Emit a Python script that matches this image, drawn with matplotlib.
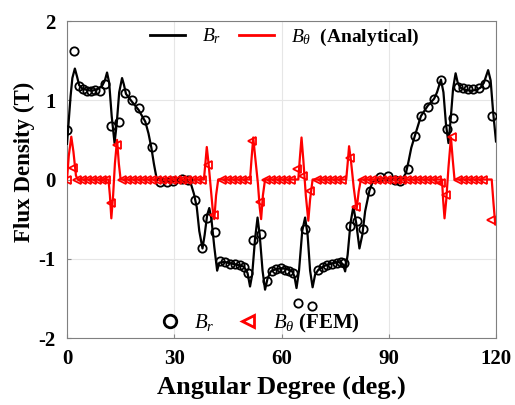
import matplotlib
matplotlib.use("Agg")
import matplotlib.pyplot as plt
from matplotlib.lines import Line2D

plt.rcParams['font.family'] = ['Liberation Serif', 'DejaVu Serif']
plt.rcParams['mathtext.fontset'] = 'custom'
plt.rcParams['mathtext.rm'] = 'Liberation Serif'
plt.rcParams['mathtext.it'] = 'Liberation Serif:italic'
plt.rcParams['mathtext.bf'] = 'Liberation Serif:bold'

# ---- Analytical B_r (deg, T)
br_ana_deg = [0, 0.5, 1.0, 1.5, 2.2, 2.8, 3.4, 4.2, 5.5, 7, 8.5, 9.8, 10.6, 11.2, 11.8, 12.5, 13.3, 13.9,
              14.6, 15.4, 15.9, 16.5, 18.2, 20, 21.9, 22.8, 23.6, 24.3, 25, 26, 28, 30, 32, 33.5, 34.7,
              35.5, 36.3, 37.0, 37.9, 38.5, 39.2, 39.8, 40.4, 41.2, 42, 42.6, 44, 46, 48, 49.5, 50.5,
              51.2, 51.8, 52.6, 53.3, 53.9, 54.7, 55.4, 56.1, 57, 58.5, 60, 61.5, 63, 63.6, 64.2, 64.9,
              65.8, 66.6, 67.3, 68, 68.7, 69.4, 70.3, 72, 74, 76, 77.2, 77.8, 78.5, 79.3, 80.1, 80.9,
              81.8, 82.6, 83.4, 84.6, 85.5, 86.5, 88, 90, 92, 94, 94.8, 95.5, 96.3, 97.3, 99, 100.9,
              102.7, 103.5, 104.6, 105.3, 106, 106.7, 107.3, 108, 108.7, 109.3, 110, 111.5, 113, 114.5,
              115.7, 116.6, 117.2, 117.8, 118.5, 119.2, 120]
br_ana_val = [0.45, 0.75, 1.05, 1.28, 1.40, 1.30, 1.19, 1.15, 1.13, 1.12, 1.14, 1.18, 1.25, 1.35, 1.22, 0.80, 0.46, 0.70,
              1.10, 1.28, 1.20, 1.08, 0.98, 0.88, 0.73, 0.58, 0.40, 0.20, 0.03, -0.01, -0.02, -0.02, -0.01, -0.02, -0.06,
              -0.18, -0.35, -0.65, -0.87, -0.70, -0.45, -0.36, -0.50, -0.85, -1.15, -1.05, -1.04, -1.06, -1.08, -1.10, -1.18,
              -1.35, -1.20, -0.75, -0.48, -0.70, -1.15, -1.39, -1.25, -1.16, -1.13, -1.12, -1.13, -1.16, -1.22, -1.37, -1.15,
              -0.65, -0.48, -0.70, -1.15, -1.36, -1.20, -1.14, -1.09, -1.06, -1.04, -1.07, -1.16, -0.95, -0.55, -0.34, -0.55,
              -0.87, -0.70, -0.40, -0.14, -0.03, 0.0, 0.01, 0.01, 0.0, 0.02, 0.08, 0.22, 0.40, 0.55, 0.80, 0.93,
              1.02, 1.10, 1.26, 1.10, 0.70, 0.46, 0.75, 1.15, 1.34, 1.22, 1.16, 1.13, 1.12, 1.13,
              1.16, 1.22, 1.30, 1.38, 1.25, 0.85, 0.48]

# ---- Analytical B_theta
bt_ana_deg = [0, 0.5, 1.2, 1.8, 2.5, 3.0, 11.6, 12.0, 12.4, 12.9, 13.4, 14.0, 14.5, 15.0,
              38.3, 38.7, 39.1, 39.6, 40.2, 40.8, 41.2, 41.7, 42.3,
              51.2, 51.6, 52.1, 52.6, 53.4, 53.9, 54.3, 54.8, 55.4,
              64.7, 65.1, 65.6, 66.1, 66.8, 67.5, 68.0, 68.7,
              78.1, 78.5, 78.9, 79.4, 80.2, 81.0, 81.6, 82.2,
              104.9, 105.2, 105.6, 106.1, 106.7, 107.4, 107.9, 108.4,
              118.8, 119.3, 119.8, 120]
bt_ana_val = [0.0, 0.30, 0.54, 0.35, 0.05, 0.0, 0.0, -0.20, -0.49, -0.20, 0.20, 0.50, 0.20, 0.0,
              0.0, 0.20, 0.41, 0.20, -0.10, -0.40, -0.50, -0.20, 0.0,
              0.0, 0.25, 0.53, 0.30, -0.05, -0.35, -0.50, -0.20, 0.0,
              0.0, 0.25, 0.53, 0.25, -0.20, -0.52, -0.25, 0.0,
              0.0, 0.20, 0.42, 0.25, -0.10, -0.38, -0.15, 0.0,
              0.0, -0.25, -0.49, -0.25, 0.15, 0.53, 0.25, 0.0,
              0.0, -0.30, -0.57, -0.50]

# ---- FEM B_r
br_fem_deg = [0, 1.9, 3.4, 4.4, 5.5, 6.7, 7.9, 9.3, 10.7, 12.4, 14.5, 16.2, 18.1, 20.2, 21.8, 23.7,
              26.0, 27.9, 29.7, 32.1, 33.9, 35.9, 37.9, 39.3, 41.4, 42.8, 44.2, 45.6, 47.0, 48.4, 49.6, 50.7,
              52.1, 54.3, 55.9, 57.3, 58.4, 59.9, 61.0, 62.0, 63.3, 64.7, 66.6, 68.4, 70.3, 71.5, 72.8, 74.0,
              75.4, 76.6, 77.6, 79.2, 81.2, 82.9, 84.7, 87.6, 89.9, 91.7, 93.1, 95.4, 97.3, 99.0, 100.9,
              102.7, 104.6, 106.2, 108.0, 109.5, 110.9, 112.3, 113.7, 115.3, 116.9, 119.0]
br_fem_val = [0.63, 1.62, 1.18, 1.14, 1.12, 1.12, 1.13, 1.12, 1.21, 0.67, 0.73, 1.09, 1.00, 0.90, 0.75, 0.41,
              -0.03, -0.03, -0.02, 0.01, -0.01, -0.26, -0.86, -0.48, -0.66, -1.03, -1.04, -1.06, -1.07, -1.08, -1.10, -1.18,
              -0.76, -0.69, -1.28, -1.16, -1.13, -1.12, -1.14, -1.15, -1.18, -1.56, -0.63, -1.60, -1.14, -1.10, -1.08, -1.06,
              -1.05, -1.04, -1.05, -0.59, -0.52, -0.62, -0.14, 0.03, 0.04, 0.0, -0.02, 0.13, 0.55, 0.80, 0.92,
              1.01, 1.26, 0.64, 0.78, 1.17, 1.15, 1.14, 1.14, 1.15, 1.21, 0.80]

# ---- FEM B_theta
bt_fem_deg = [0, 1.6, 2.8, 4.2, 5.6, 7.0, 8.4, 9.8, 11.0, 12.4, 14.0, 15.4, 16.8, 18.2, 19.6, 21.0, 22.4,
              23.8, 25.2, 26.6, 28.0, 29.4, 30.8, 32.2, 33.6, 35.0, 36.4, 37.8, 39.5, 41.2, 43.3, 44.7,
              46.1, 47.5, 48.9, 50.3, 51.7, 54.0, 55.6, 57.0, 58.4, 59.8, 61.2, 62.6, 64.2, 66.1, 68.0,
              69.8, 71.2, 72.6, 74.0, 75.4, 76.8, 79.2, 80.8, 82.4, 83.8, 85.2, 86.6, 88.0, 89.4, 90.8,
              92.2, 93.6, 95.0, 96.4, 97.8, 99.2, 100.6, 102.0, 103.4, 104.5, 106.0, 107.6, 109.5, 110.9,
              112.3, 113.7, 115.1, 116.5, 118.6]
bt_fem_val = [0.0, 0.15, 0.0, 0.0, 0.0, 0.0, 0.0, 0.0, 0.0, -0.30, 0.44, 0.0, 0.0, 0.0, 0.0, 0.0, 0.0,
              0.0, 0.0, 0.0, 0.0, 0.0, 0.0, 0.0, 0.0, 0.0, 0.0, 0.0, 0.18, -0.45, 0.0, 0.0,
              0.0, 0.0, 0.0, 0.0, 0.48, -0.28, 0.0, 0.0, 0.0, 0.0, 0.0, 0.0, 0.13, 0.04, -0.15,
              0.0, 0.0, 0.0, 0.0, 0.0, 0.0, 0.27, -0.35, 0.0, 0.0, 0.0, 0.0, 0.0, 0.0, 0.0,
              0.0, 0.0, 0.0, 0.0, 0.0, 0.0, 0.0, 0.0, 0.0, -0.05, -0.20, 0.53, 0.0, 0.0,
              0.0, 0.0, 0.0, 0.0, -0.51]

x_ticks = [0, 30, 60, 90, 120]
y_ticks = [-2, -1, 0, 1, 2]

fig = plt.figure(figsize=(5.15, 4.05), dpi=100)
ax = fig.add_axes([67/515, 1 - 338/405, (496 - 67)/515, (338 - 21)/405])

ax.plot(br_ana_deg, br_ana_val, color='black', lw=1.6, zorder=3)
ax.plot(bt_ana_deg, bt_ana_val, color='red', lw=1.6, zorder=3)
ax.plot(br_fem_deg, br_fem_val, ls='none', marker='o', ms=6, mfc='none', mec='black', mew=1.3, zorder=4)
ax.plot(bt_fem_deg, bt_fem_val, ls='none', marker='<', ms=6, mfc='none', mec='red', mew=1.3, zorder=4)

ax.set_xlim(0, 120)
ax.set_ylim(-2, 2)
ax.set_xticks(x_ticks)
ax.set_yticks(y_ticks)
ax.set_xticklabels([str(t) for t in x_ticks], fontsize=15, fontweight='bold')
ax.set_yticklabels([str(t) for t in y_ticks], fontsize=15, fontweight='bold')
ax.tick_params(axis='x', direction='in', length=3, color='#888888', pad=8)
ax.tick_params(axis='y', direction='in', length=3, color='#888888', pad=8)
ax.grid(True, color='#e6e6e6', lw=0.8)
ax.set_axisbelow(True)
for s in ax.spines.values():
    s.set_color('#808080')
    s.set_linewidth(0.8)

ax.set_xlabel('Angular Degree (deg.)', fontsize=19, fontweight='bold', labelpad=5)
ax.set_ylabel('Flux Density (T)', fontsize=16.5, fontweight='bold')
ax.yaxis.set_label_coords((35 - 67) / 429, 0.557)

h1 = [Line2D([], [], color='black', lw=2), Line2D([], [], color='red', lw=2)]
leg1 = ax.legend(h1, [r'$B_r$', r'$B_\theta$  (Analytical)'], loc='center left',
                 bbox_to_anchor=((150 - 67) / 429, (338 - 37) / 317), ncol=2, frameon=False,
                 handlelength=1.8, columnspacing=0.95, handletextpad=0.85,
                 borderpad=0, borderaxespad=0,
                 prop={'weight': 'bold', 'size': 14})
ax.add_artist(leg1)
h2 = [Line2D([], [], ls='none', marker='o', ms=9, mfc='none', mec='black', mew=2),
      Line2D([], [], ls='none', marker='<', ms=9, mfc='none', mec='red', mew=2)]
ax.legend(h2, [r'$B_r$', r'$B_\theta$ (FEM)'], loc='center left',
          bbox_to_anchor=((157 - 67) / 429, (338 - 323) / 317),
          ncol=2, frameon=False, handlelength=1.2, columnspacing=1.0, handletextpad=0.6,
          borderpad=0, borderaxespad=0,
          prop={'weight': 'bold', 'size': 15})

fig.savefig('out.png', dpi=100)
